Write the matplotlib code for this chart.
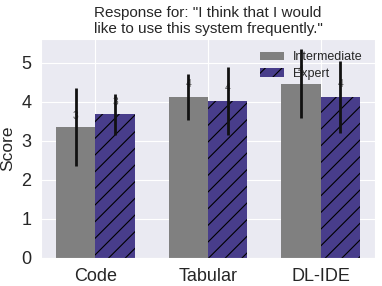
import matplotlib
matplotlib.use("Agg")
import matplotlib.pyplot as plt
import seaborn as sns
import numpy as np

sns.set_style("darkgrid")
plt.rcParams['font.family'] = ['Liberation Sans', 'DejaVu Sans']
plt.rcParams['hatch.color'] = 'black'
plt.rcParams['hatch.linewidth'] = 0.8

categories = ["Code", "Tabular", "DL-IDE"]
intermediate_mean = [3.35, 4.12, 4.46]
intermediate_std = [1.0, 0.6, 0.88]
expert_mean = [3.68, 4.02, 4.12]
expert_std = [0.52, 0.86, 0.93]
series_names = ["Intermediate", "Expert"]

fig = plt.figure(figsize=(3.82, 2.86), dpi=100)
ax = fig.add_axes([0.107, 0.098, 0.875, 0.766])

x = np.arange(len(categories))
w = 0.35
b1 = ax.bar(x - w / 2, intermediate_mean, w, color='gray', linewidth=0,
            label=series_names[0])
b2 = ax.bar(x + w / 2, expert_mean, w, color='darkslateblue', edgecolor='black',
            linewidth=0, hatch='//', label=series_names[1])
ax.errorbar(x - w / 2, intermediate_mean, yerr=intermediate_std, fmt='none',
            ecolor='#111111', elinewidth=2, capsize=0, zorder=4)
ax.errorbar(x + w / 2, expert_mean, yerr=expert_std, fmt='none',
            ecolor='#111111', elinewidth=2, capsize=0, zorder=4)

for bars in (b1, b2):
    for r in bars:
        h = r.get_height()
        ax.text(r.get_x() + r.get_width() / 2, 1.05 * h, '%d' % int(h),
                ha='center', va='bottom', fontsize=7.5, color='#555555', zorder=3)

ax.set_xticks(x)
ax.set_xticklabels(categories, fontsize=13)
ax.tick_params(axis='y', labelsize=13)
ax.set_ylabel("Score", fontsize=12.5)
ax.set_title('Response for: "I think that I would\nlike to use this system frequently."',
             fontsize=11, pad=4)
ax.legend(loc='upper right', fontsize=9, frameon=False, handlelength=1.9,
          handletextpad=0.7, labelspacing=0.35, borderaxespad=0.6)

fig.savefig("out.png", dpi=100)
